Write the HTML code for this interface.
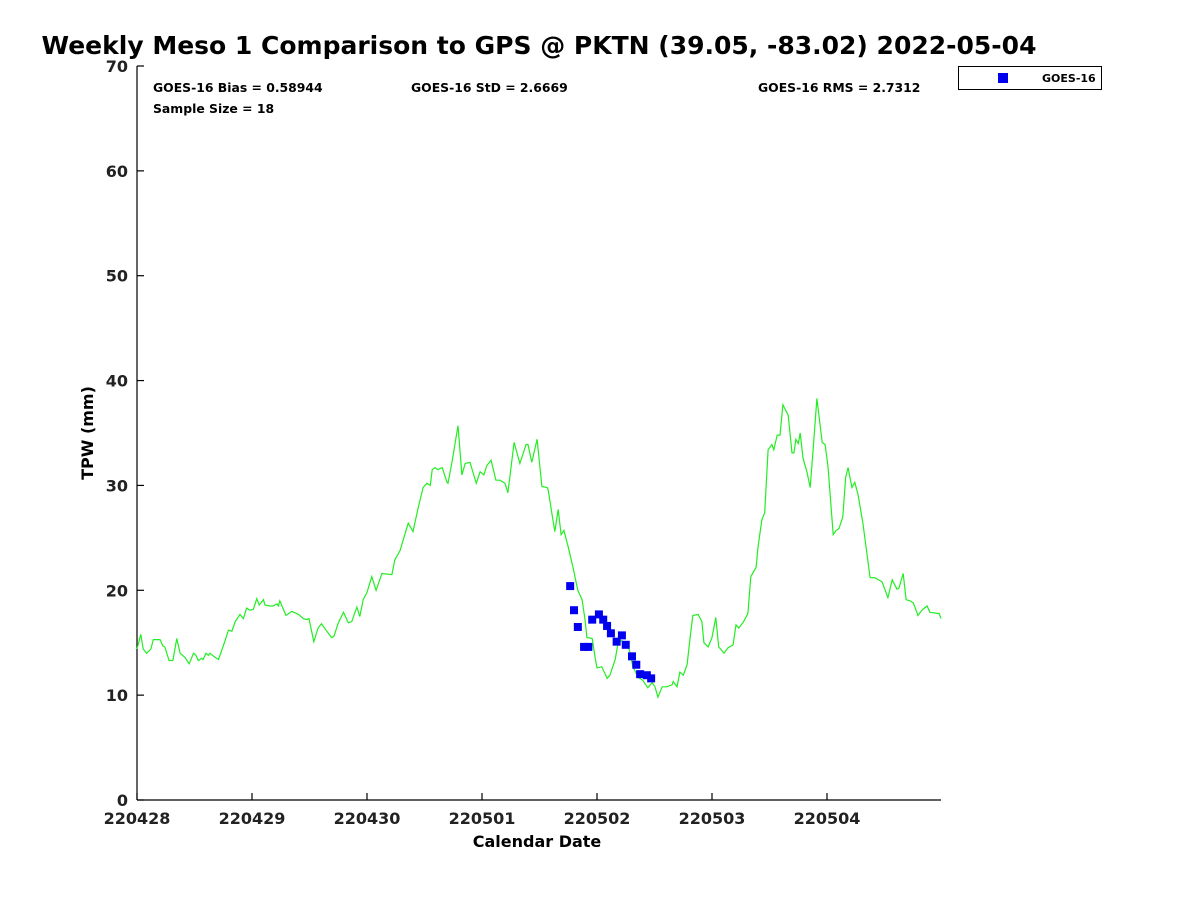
<!DOCTYPE html>
<html><head><meta charset="utf-8"><style>
html,body{margin:0;padding:0;background:#fff;}
svg{display:block;font-family:"DejaVu Sans","Liberation Sans",sans-serif;}
</style></head><body>
<svg id="chart" width="1200" height="900" viewBox="0 0 1200 900">
<text x="539" y="54" font-size="25" font-weight="bold" text-anchor="middle">Weekly Meso 1 Comparison to GPS @ PKTN (39.05, -83.02) 2022-05-04</text>
<g id="axes"></g>
<g id="plot"></g>
<text x="153" y="92" font-size="12.4" font-weight="bold">GOES-16 Bias = 0.58944</text>
<text x="411" y="92" font-size="12.4" font-weight="bold">GOES-16 StD = 2.6669</text>
<text x="758" y="92" font-size="12.4" font-weight="bold">GOES-16 RMS = 2.7312</text>
<text x="153" y="113" font-size="12.4" font-weight="bold">Sample Size = 18</text>
<g>
<rect x="958.5" y="66.5" width="143" height="23" fill="#fff" stroke="#000" stroke-width="1"/>
<rect x="998" y="73" width="10" height="10" fill="#0000ee"/>
<text x="1042" y="82" font-size="11" font-weight="bold">GOES-16</text>
</g>
<text x="537" y="847" font-size="16" font-weight="bold" text-anchor="middle">Calendar Date</text>
<text x="0" y="0" font-size="16" font-weight="bold" text-anchor="middle" transform="translate(93,433) rotate(-90)">TPW (mm)</text>
</svg>
<script>
const gpsHours=[0,0.8,1.3,2.0,2.9,3.4,4.8,5.4,5.8,6.7,7.5,8.3,9.0,10.0,10.9,11.8,12.3,12.8,13.5,13.8,14.4,14.9,15.2,16.3,17.0,18.0,19.1,19.8,20.5,21.5,22.2,22.9,23.6,24.3,25.0,25.5,26.4,26.7,27.8,28.4,29.2,29.5,29.8,31.1,32.3,33.7,34.7,35.4,35.9,36.9,37.8,38.5,39.6,40.6,41.1,42.0,43.1,44.1,44.8,45.9,46.5,
47.2,48.0,49.0,49.9,51.1,53.2,53.8,54.9,56.6,57.6,58.6,59.7,60.5,61.2,61.6,62.2,62.8,63.7,64.7,64.9,65.8,67.0,67.8,68.5,69.5,70.8,71.6,72.4,73.0,73.9,74.9,75.8,76.8,77.4,78.7,79.9,81.2,81.6,82.4,83.5,84.5,85.6,85.8,87.2,87.9,88.5,89.1,90.0,91.0,92.0,
92.9,93.5,93.9,95.0,95.6,96.0,97.0,98.1,98.7,99.8,100.4,101.2,101.8,102.3,102.9,103.5,104.6,105.6,106.6,107.5,108.1,108.7,109.6,110.6,111.7,111.9,112.7,113.3,114.0,114.8,115.4,116.0,117.1,117.9,118.3,119.2,120.0,120.8,
121.4,122.5,123.3,124.4,125.0,125.6,126.6,127.5,128.1,129.2,129.6,130.4,131.0,131.7,132.5,132.9,133.6,134.2,134.8,135.9,136.7,137.1,137.5,138.0,138.4,139.0,139.8,140.5,141.1,141.9,143.0,143.6,144.2,145.3,145.9,146.5,147.3,147.9,148.4,149.2,149.8,150.5,151.5,153.0,154.0,155.5,156.7,157.6,158.6,159.0,159.9,160.5,161.3,162.0,163.0,163.8,164.9,165.5,167.0,167.4,167.8];
const gpsTpw=[14.4,15.8,14.4,14.0,14.4,15.3,15.3,14.7,14.6,13.3,13.3,15.4,14.0,13.6,13.0,14.0,13.8,13.3,13.5,13.4,14.0,13.8,14.0,13.6,13.4,14.7,16.2,16.1,17.0,17.7,17.3,18.3,18.1,18.2,19.2,18.6,19.1,18.6,18.5,18.5,18.7,18.5,19.0,17.6,18.0,17.7,17.3,17.2,17.3,15.1,16.4,16.8,16.1,15.5,15.6,16.9,17.9,16.9,17.0,18.4,17.5,
19.1,19.8,21.3,20.0,21.6,21.5,22.9,23.8,26.4,25.6,27.7,29.8,30.2,30.0,31.5,31.7,31.5,31.7,30.3,30.2,32.4,35.7,31.0,32.1,32.2,30.2,31.3,31.0,31.9,32.4,30.5,30.5,30.2,29.3,34.1,32.1,33.9,33.9,32.2,34.4,29.9,29.8,29.6,25.6,27.7,25.3,25.7,24.1,22.2,20.0,
19.1,17.2,15.5,15.4,13.6,12.6,12.7,11.6,11.9,13.4,15.0,15.2,14.9,15.1,14.0,12.7,11.7,11.4,10.7,11.2,10.8,9.8,10.8,10.8,11.0,11.3,10.8,12.2,11.9,12.9,15.4,17.6,17.7,17.0,15.0,14.6,15.5,17.4,
14.6,14.0,14.5,14.8,16.7,16.4,17.0,17.8,21.3,22.2,24.1,26.7,27.4,33.4,33.9,33.4,34.8,34.8,37.7,36.7,33.1,33.1,34.4,34.0,35.0,32.6,31.3,29.8,33.4,38.3,34.1,33.9,31.8,25.3,25.7,25.9,27.0,30.8,31.7,29.8,30.3,29.1,26.4,21.2,21.2,20.8,19.3,21.0,20.1,20.2,21.6,19.1,19.0,18.8,17.6,18.1,18.5,17.9,17.8,17.8,17.3];
const goesHours=[90.4,91.2,92.0,93.3,94.2,95.0,96.4,97.3,98.1,98.9,100.1,101.2,102.0,103.3,104.2,105.0,106.4,107.3];
const goesTpw=[20.4,18.1,16.5,14.6,14.6,17.2,17.7,17.2,16.6,15.9,15.1,15.7,14.8,13.7,12.9,12.0,11.9,11.6];
const yTicks=[0,10,20,30,40,50,60,70];
const xTickLabels=["220428","220429","220430","220501","220502","220503","220504"];

const X0=137,X1=941,Y0=800,Y1=66,VMAX=70;
const PXH=115/24;
function xs(h){return X0+h*PXH;}
function ys(v){return Y0-(Y0-Y1)*v/VMAX;}
const NS="http://www.w3.org/2000/svg";
function mk(tag,attrs,parent){const e=document.createElementNS(NS,tag);for(const k in attrs)e.setAttribute(k,attrs[k]);parent.appendChild(e);return e;}
const axes=document.getElementById('axes'),plot=document.getElementById('plot');
let l=mk('line',{x1:X0,y1:Y1,x2:X0,y2:Y0,stroke:'#000','stroke-width':1.2},axes);


l=mk('line',{x1:X0,y1:Y0,x2:X1,y2:Y0,stroke:'#000','stroke-width':1.2},axes);


yTicks.forEach(v=>{
  const t=mk('line',{x1:X0,y1:ys(v),x2:X0+7,y2:ys(v),stroke:'#000','stroke-width':1.2},axes);
  
  
  const tx=mk('text',{x:X0-9,y:ys(v)+6,'font-size':16,'font-weight':'bold','text-anchor':'end',fill:'#222'},axes);
  tx.textContent=v;
  
  
});
xTickLabels.forEach((s,i)=>{
  const x=xs(i*24);
  const t=mk('line',{x1:x,y1:Y0,x2:x,y2:Y0-7,stroke:'#000','stroke-width':1.2},axes);
  
  
  const tx=mk('text',{x:x,y:Y0+24,'font-size':16,'font-weight':'bold','text-anchor':'middle',fill:'#222'},axes);
  tx.textContent=s;
  
  
});
const pts=gpsHours.map((h,i)=>xs(h).toFixed(1)+','+ys(gpsTpw[i]).toFixed(1)).join(' ');
const pl=mk('polyline',{points:pts,fill:'none',stroke:'#22ee22','stroke-width':1.2},plot);


goesHours.forEach((h,i)=>{
  const r=mk('rect',{x:xs(h)-4,y:ys(goesTpw[i])-4,width:8,height:8,fill:'#0000ee'},plot);
  
  
});
</script>
</body></html>
